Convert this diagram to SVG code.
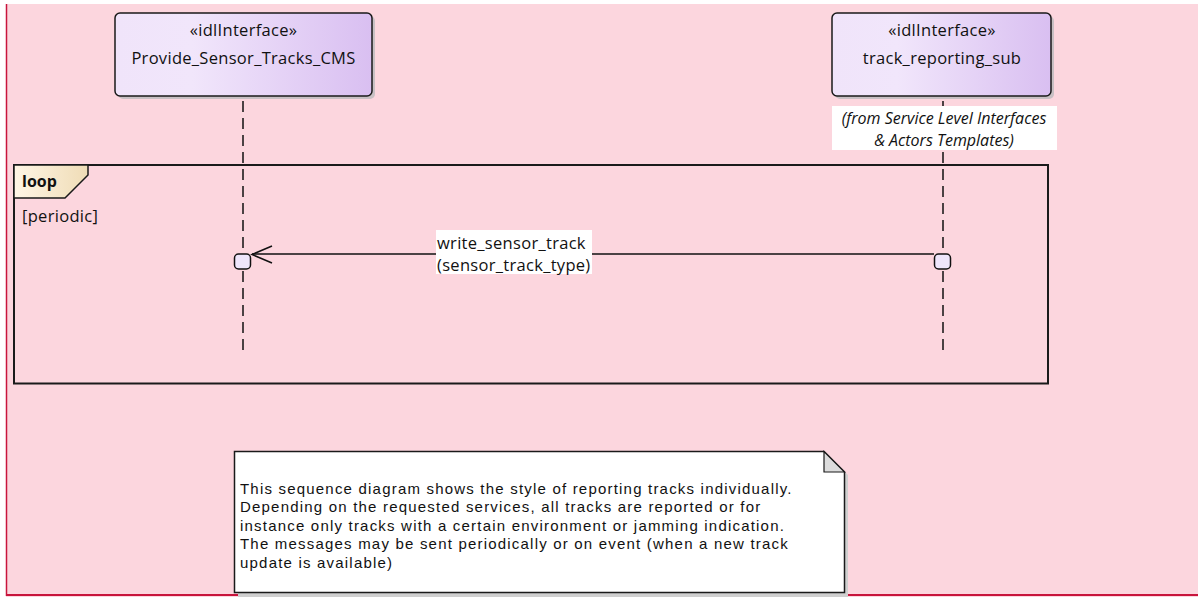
<svg xmlns="http://www.w3.org/2000/svg" width="1198" height="597" viewBox="0 0 1198 597">
<style>
text{font-family:"Open Sans","Liberation Sans",Arial,sans-serif;fill:#111}
.lbl{font-size:16.5px;letter-spacing:0.3px}
.ital{font-style:italic;font-size:16px}
.note{font-family:"Liberation Sans",Arial,sans-serif;font-size:15px;letter-spacing:1.2px}
.life{stroke:#111;stroke-width:1.5;stroke-dasharray:11 6;fill:none}
.act{fill:#EEE6FB;stroke:#111;stroke-width:1.5}
.shadow{fill:#c8c0c4}
</style>
<defs>
<linearGradient id="ng" x1="0" y1="0" x2="1" y2="0">
<stop offset="0" stop-color="#F0E4FA"/>
<stop offset="0.3" stop-color="#F1E6FB"/>
<stop offset="1" stop-color="#D9BFF1"/>
</linearGradient>
<linearGradient id="lg" x1="0" y1="0" x2="1" y2="0">
<stop offset="0" stop-color="#FFF6E6"/>
<stop offset="1" stop-color="#EFDCB6"/>
</linearGradient>
</defs>
<rect x="0" y="0" width="1198" height="597" fill="#fff"/>
<rect x="6" y="4" width="1192" height="593" fill="#FCD6DE"/>
<line x1="6.5" y1="4" x2="6.5" y2="596" stroke="#C8143C" stroke-width="1.5"/>
<line x1="6" y1="595" x2="1198" y2="595" stroke="#C8143C" stroke-width="2"/>

<g id="loop">
<rect x="14" y="165" width="1034" height="218.5" fill="none" stroke="#1a1a1a" stroke-width="2"/>
<path d="M14,165 H88 V175 L65,198 H14 Z" fill="url(#lg)" stroke="#1a1a1a" stroke-width="1.5"/>
<text x="22" y="187" style="font-size:16px;font-weight:bold">loop</text>
<text class="lbl" x="22" y="222">[periodic]</text>
</g>

<g id="connectors">
<line class="life" x1="243" y1="350" x2="243" y2="97"/>
<line class="life" x1="943" y1="350" x2="943" y2="97"/>
<line x1="252" y1="254" x2="934" y2="254" stroke="#111" stroke-width="1.5"/>
<polyline points="272,246 252,254.5 272,263" fill="none" stroke="#111" stroke-width="1.5"/>
<rect x="436" y="230" width="156" height="44" fill="#fff"/>
<text class="lbl" x="437" y="249">write_sensor_track</text>
<text class="lbl" x="437" y="271">(sensor_track_type)</text>
</g>

<g id="node-provide">
<rect x="118" y="16" width="257" height="83" rx="5" class="shadow"/>
<rect x="115" y="13" width="257" height="83" rx="5" fill="url(#ng)" stroke="#1a1a1a" stroke-width="1.5"/>
<text class="lbl" x="243.5" y="36" text-anchor="middle">«idlInterface»</text>
<text class="lbl" x="243.5" y="64" text-anchor="middle">Provide_Sensor_Tracks_CMS</text>
</g>

<g id="node-track">
<rect x="835" y="16" width="219" height="83" rx="5" class="shadow"/>
<rect x="832" y="13" width="219" height="83" rx="5" fill="url(#ng)" stroke="#1a1a1a" stroke-width="1.5"/>
<text class="lbl" x="942" y="36" text-anchor="middle">«idlInterface»</text>
<text class="lbl" x="942" y="64" text-anchor="middle">track_reporting_sub</text>
<rect x="832" y="106" width="225" height="44" fill="#fff"/>
<text class="ital" x="944" y="124" text-anchor="middle">(from Service Level Interfaces</text>
<text class="ital" x="944" y="146" text-anchor="middle">&amp; Actors Templates)</text>
</g>

<g id="activations">
<rect class="act" x="234.5" y="254" width="16" height="15" rx="4"/>
<rect class="act" x="934.5" y="254" width="16" height="15" rx="4"/>
</g>

<g id="note">
<path d="M238,455 H828 L848,475 V597 H238 Z" fill="#cfcfcf"/>
<path d="M234.5,451.5 H824 L844.5,472 V592.5 H234.5 Z" fill="#fff" stroke="#1a1a1a" stroke-width="1.5"/>
<path d="M824,451.5 V472 H844.5 Z" fill="#DCDCDC" stroke="#1a1a1a" stroke-width="1.2"/>
<text class="note" x="240" y="493.5">This sequence diagram shows the style of reporting tracks individually.</text>
<text class="note" x="240" y="512">Depending on the requested services, all tracks are reported or for</text>
<text class="note" x="240" y="530.5">instance only tracks with a certain environment or jamming indication.</text>
<text class="note" x="240" y="549">The messages may be sent periodically or on event (when a new track</text>
<text class="note" x="240" y="567.5">update is available)</text>
</g>
</svg>
